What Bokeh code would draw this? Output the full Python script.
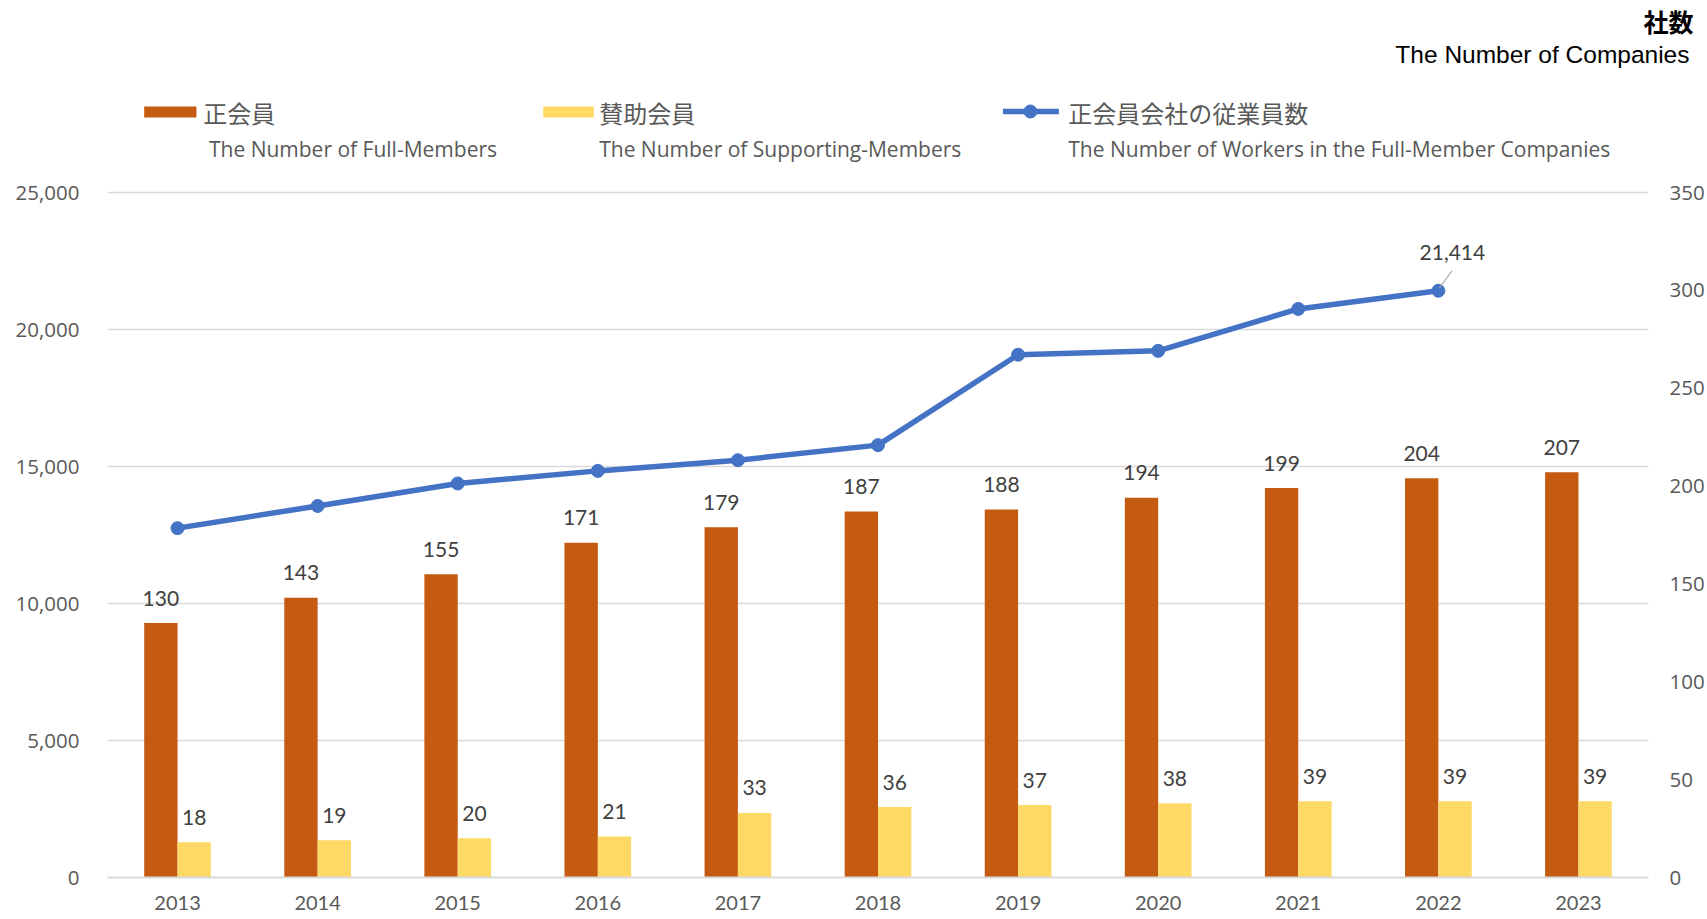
from bokeh.plotting import figure
from bokeh.models import (ColumnDataSource, FactorRange, Range1d, LinearAxis, LabelSet, Title,
                          NumeralTickFormatter, FixedTicker)
from bokeh.transform import dodge
from bokeh.core.properties import value
from bokeh.embed import file_html
from bokeh.resources import INLINE

# ---------------- data ----------------
years = ["2013", "2014", "2015", "2016", "2017", "2018", "2019", "2020", "2021", "2022", "2023"]
full_members = [130, 143, 155, 171, 179, 187, 188, 194, 199, 204, 207]
supporting_members = [18, 19, 20, 21, 33, 36, 37, 38, 39, 39, 39]
worker_years = ["2013", "2014", "2015", "2016", "2017", "2018", "2019", "2020", "2021", "2022"]
workers = [12750, 13560, 14380, 14840, 15230, 15780, 19080, 19220, 20750, 21414]
left_ticks = [0, 5000, 10000, 15000, 20000, 25000]
right_ticks = [0, 50, 100, 150, 200, 250, 300, 350]

legend_jp = ["正会員", "賛助会員", "正会員会社の従業員数"]
legend_en = ["The Number of Full-Members", "The Number of Supporting-Members",
             "The Number of Workers in the Full-Member Companies"]
title_jp = "社数"
title_en = "The Number of Companies"

# ---------------- style / layout ----------------
ORANGE = "#C55A11"
YELLOW = "#FFD966"
BLUE = "#4472C4"
GRID = "#d9d9d9"
TICK = "#595959"
LBL = "#404040"

W, H = 1707, 919
BL, BR, BT, BB = 107, 58, 67, 42
F_LEFT, F_RIGHT = BL, W - BR            # frame edges in page pixels
F_TOP, F_BOTTOM = BT, H - BB
AXIS_PX = 685.0                          # pixels spanned by 0..25000
LEFT_MAX, RIGHT_MAX = 25000, 350
scale = (F_BOTTOM - F_TOP) / AXIS_PX


def fx(px):
    """page x pixel -> synthetic categorical coordinate"""
    return (px - F_LEFT) / (F_RIGHT - F_LEFT) * len(years)


p = figure(width=W, height=H, x_range=FactorRange(factors=years, range_padding=0),
           y_range=Range1d(0, LEFT_MAX * scale), output_backend="svg", toolbar_location=None,
           min_border_left=BL, min_border_right=BR, min_border_top=BT, min_border_bottom=BB,
           outline_line_color=None)
p.extra_y_ranges = {"right": Range1d(0, RIGHT_MAX * scale),
                    "py": Range1d(F_BOTTOM, F_TOP)}

# left axis
p.yaxis.ticker = FixedTicker(ticks=left_ticks)
p.yaxis.formatter = NumeralTickFormatter(format="0,0")
p.yaxis.axis_line_color = None
p.yaxis.major_tick_line_color = None
p.yaxis.minor_tick_line_color = None
p.yaxis.major_tick_out = 0
p.yaxis.major_tick_in = 0
p.yaxis.minor_tick_out = 0
p.yaxis.major_label_standoff = 28
p.yaxis.major_label_text_font = "Open Sans"
p.yaxis.major_label_text_font_size = "20.5px"
p.yaxis.major_label_text_color = TICK

# right axis
ra = LinearAxis(y_range_name="right", ticker=FixedTicker(ticks=right_ticks))
ra.axis_line_color = None
ra.major_tick_line_color = None
ra.minor_tick_line_color = None
ra.major_tick_out = 0
ra.major_tick_in = 0
ra.minor_tick_out = 0
ra.major_label_standoff = 21
ra.major_label_text_font = "Open Sans"
ra.major_label_text_font_size = "20.5px"
ra.major_label_text_color = TICK
p.add_layout(ra, "right")

# x axis
p.xaxis.axis_line_color = GRID
p.xaxis.axis_line_width = 2
p.xaxis.major_tick_line_color = None
p.xaxis.minor_tick_line_color = None
p.xaxis.major_tick_out = 0
p.xaxis.major_tick_in = 0
p.xaxis.major_label_standoff = 18
p.xaxis.major_label_text_font = "Lato"
p.xaxis.major_label_text_font_size = "20px"
p.xaxis.major_label_text_color = TICK

p.xgrid.visible = False
p.ygrid.grid_line_color = GRID
p.ygrid.grid_line_width = 1.3

# ---------------- unit titles (top right, above the frame) ----------------
p.add_layout(Title(text=title_en, align="right", text_font="Liberation Sans",
                   text_font_size="24.5px", text_font_style="normal", text_color="black",
                   standoff=0, offset=-41), "above")
p.add_layout(Title(text=title_jp, align="right", text_font="Noto Sans CJK JP",
                   text_font_size="25px", text_font_style="bold", text_color="black",
                   standoff=0, offset=-45), "above")

# ---------------- bars ----------------
bar_src = ColumnDataSource(dict(
    year=years, full=full_members, supp=supporting_members,
    full_lbl=[str(v) for v in full_members], supp_lbl=[str(v) for v in supporting_members]))

OFF = 0.119
BW = 0.238
p.vbar(x=dodge("year", -OFF, range=p.x_range), top="full", width=BW, source=bar_src,
       y_range_name="right", fill_color=ORANGE, line_color=None)
p.vbar(x=dodge("year", OFF, range=p.x_range), top="supp", width=BW, source=bar_src,
       y_range_name="right", fill_color=YELLOW, line_color=None)

lbl_style = dict(text_align="center", text_baseline="middle", y_offset=25,
                 text_font=value("Lato"), text_font_size="21px", text_color=LBL)
p.add_layout(LabelSet(x=dodge("year", -OFF, range=p.x_range), y="full", text="full_lbl",
                      source=bar_src, y_range_name="right", **lbl_style))
p.add_layout(LabelSet(x=dodge("year", OFF, range=p.x_range), y="supp", text="supp_lbl",
                      source=bar_src, y_range_name="right", **lbl_style))

# ---------------- line ----------------
line_src = ColumnDataSource(dict(year=worker_years, workers=workers))
p.line("year", "workers", source=line_src, line_color=BLUE, line_width=5.5)
p.scatter("year", "workers", source=line_src, size=13, fill_color=BLUE, line_color=BLUE)

units_per_px = LEFT_MAX / AXIS_PX
last_src = ColumnDataSource(dict(
    year=[worker_years[-1]], w=[workers[-1]],
    w0=[workers[-1] + 3 * units_per_px], w1=[workers[-1] + 20 * units_per_px],
    lbl=[f"{workers[-1]:,}"]))
p.segment(x0=dodge("year", 0.008, range=p.x_range), y0="w0",
          x1=dodge("year", 0.098, range=p.x_range), y1="w1",
          source=last_src, line_color="#a6a6a6", line_width=1.2)
p.add_layout(LabelSet(x=dodge("year", 0.1, range=p.x_range), y="w", text="lbl", source=last_src,
                      text_align="center", text_baseline="middle", y_offset=38,
                      text_font=value("Lato"), text_font_size="21px", text_color=LBL))

# ---------------- legend (page-pixel positions inside the frame) ----------------
hk = dict(y_range_name="py")
p.quad(left=[fx(143.7)], right=[fx(196)], top=[106], bottom=[117],
       fill_color=ORANGE, line_color=None, **hk)
p.quad(left=[fx(543)], right=[fx(593.6)], top=[106], bottom=[117],
       fill_color=YELLOW, line_color=None, **hk)
p.segment(x0=[fx(1003)], x1=[fx(1059)], y0=[111], y1=[111], line_color=BLUE, line_width=5.5, **hk)
p.scatter(x=[fx(1030.5)], y=[111], size=13, fill_color=BLUE, line_color=BLUE, **hk)

p.text(x=[fx(202.8), fx(599), fx(1068.4)], y=[112, 112, 112], text=legend_jp,
       text_align="left", text_baseline="middle", text_font=value("Noto Sans CJK JP"),
       text_font_size="24px", text_color=TICK, **hk)
p.text(x=[fx(208.5), fx(599), fx(1068.4)], y=[148.5, 148.5, 148.5], text=legend_en,
       text_align="left", text_baseline="middle", text_font=value("Open Sans"),
       text_font_size="21px", text_color=TICK, **hk)

open("out.html", "w").write(file_html(p, INLINE))
